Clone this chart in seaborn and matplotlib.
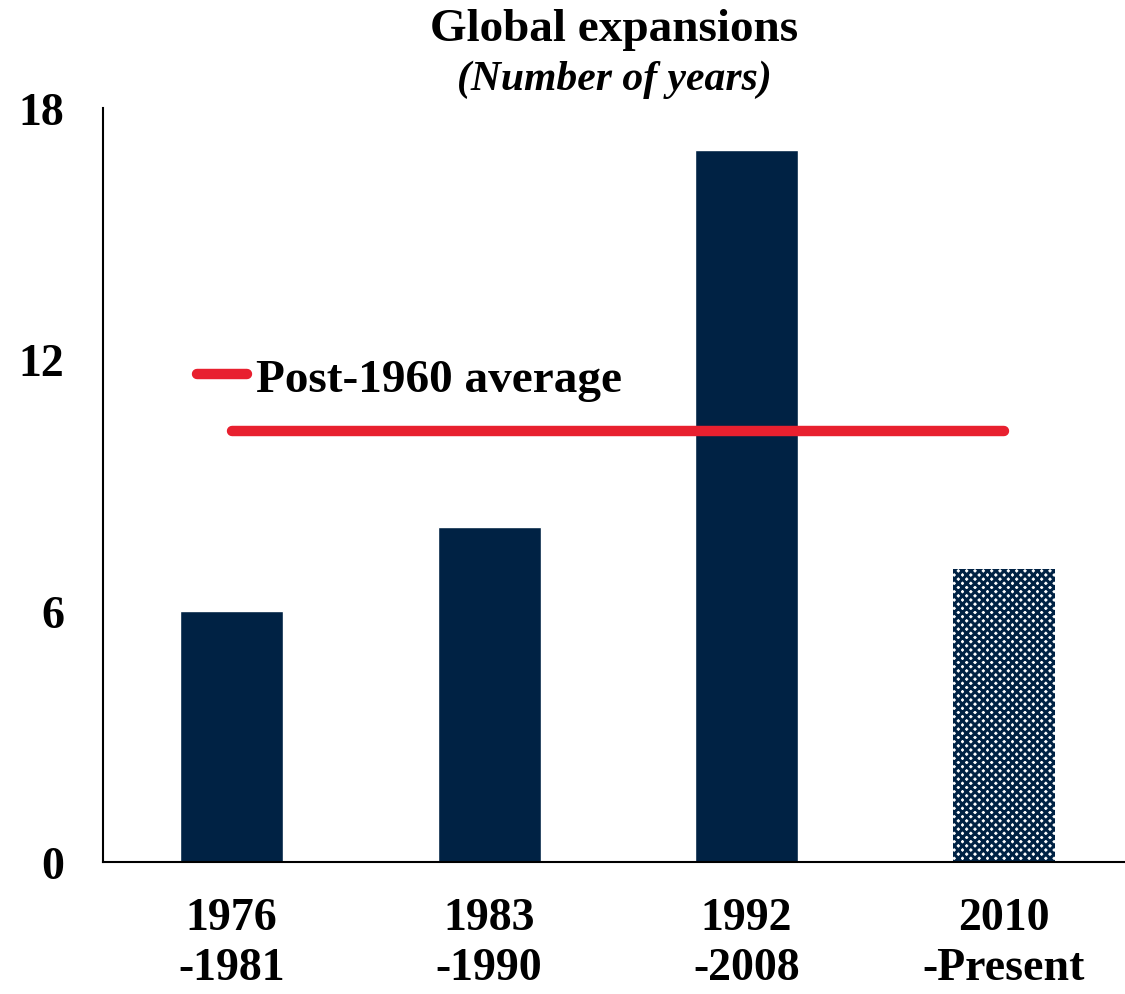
import pandas as pd
import seaborn as sns
import matplotlib.pyplot as plt
from matplotlib.lines import Line2D

# data
periods = ["1976\n-1981", "1983\n-1990", "1992\n-2008", "2010\n-Present"]
years = [6.0, 8.0, 17.0, 7.0]
post_1960_avg = 10.3
yticks = [0, 6, 12, 18]

navy = "#002244"
red = "#E8202F"

sns.set_style("white")
plt.rcParams["font.family"] = ["Liberation Serif", "DejaVu Serif"]
plt.rcParams["font.weight"] = "bold"
plt.rcParams["text.color"] = "black"
plt.rcParams["xtick.color"] = "black"
plt.rcParams["ytick.color"] = "black"
plt.rcParams["hatch.linewidth"] = 2.2

df = pd.DataFrame({"period": periods, "years": years})

fig = plt.figure(figsize=(11.25, 9.95), dpi=100)
ax = fig.add_axes([103 / 1125, 1 - 863 / 995, 1022 / 1125, 754 / 995])

sns.barplot(data=df, x="period", y="years", color=navy, width=0.4,
            saturation=1, ax=ax)

# last bar is the ongoing expansion -> dotted fill
last = ax.patches[-1]
last.set_facecolor("white")
last.set_edgecolor(navy)
last.set_hatch("xxxx")
last.set_linewidth(0)

# post-1960 average line across the categories
ax.plot([0, len(periods) - 1], [post_1960_avg, post_1960_avg], color=red,
        lw=7.5, solid_capstyle="round")

ax.set_xlim(-0.5, 3.47)
ax.set_ylim(0, 18)
ax.set_yticks(yticks)
ax.set_xlabel("")
ax.set_ylabel("")
ax.tick_params(axis="y", length=0, pad=28, labelsize=33)
ax.tick_params(axis="x", length=0, pad=25, labelsize=33)
for lab in ax.get_xticklabels() + ax.get_yticklabels():
    lab.set_fontweight("bold")
    lab.set_linespacing(1.25)

sns.despine(ax=ax, top=True, right=True)
for s in ["left", "bottom"]:
    ax.spines[s].set_color("black")
    ax.spines[s].set_linewidth(1.5)

handle = Line2D([], [], color=red, lw=7.5, solid_capstyle="round")
ax.legend([handle], ["Post-1960 average"], loc="center left",
          bbox_to_anchor=(0.092, 0.64), frameon=False, borderpad=0,
          borderaxespad=0, handlelength=1.05, handletextpad=0.2,
          prop={"size": 34, "weight": "bold"})

fig.text(614 / 1125, 1 - 30 / 995, "Global expansions", ha="center",
         va="center", fontsize=34, fontweight="bold")
fig.text(614 / 1125, 1 - 80 / 995, "(Number of years)", ha="center",
         va="center", fontsize=30, fontweight="bold", fontstyle="italic")

fig.savefig("out.png", dpi=100)
